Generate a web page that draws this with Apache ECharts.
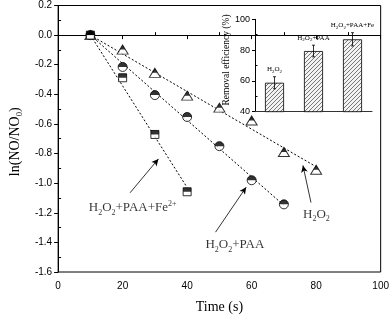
<!DOCTYPE html>
<html><head><meta charset="utf-8">
<script src="https://cdn.jsdelivr.net/npm/echarts@6/dist/echarts.min.js"></script>
<style>html,body{margin:0;padding:0;background:#fff}#c{width:392px;height:319px}</style>
</head><body><div id="c"></div>
<script>
// ---- data ----
const timeH2O2 = [10, 20, 30, 40, 50, 60, 70, 80];
const lnH2O2   = [0, -0.098, -0.255, -0.409, -0.49, -0.577, -0.79, -0.909];
const timePAA  = [10, 20, 30, 40, 50, 60, 70];
const lnPAA    = [0, -0.215, -0.405, -0.553, -0.75, -0.98, -1.143];
const timeFe   = [10, 20, 30, 40];
const lnFe     = [0, -0.288, -0.671, -1.058];
const insetCategories = ['H2O2', 'H2O2+PAA', 'H2O2+PAA+Fe'];
const insetLabels = ['H{s|2}O{s|2}', 'H{s|2}O{s|2}+PAA', 'H{s|2}O{s|2}+PAA+Fe'];
const removalEff = [58.8, 79.4, 87.0];
const removalErr = [3.9, 3.8, 4.3];
const xMinorTicks = [10, 30, 50, 70, 90];
const yMinorTicks = [-1.5, -1.3, -1.1, -0.9, -0.7, -0.5, -0.3, -0.1, 0.1];
const insetMinorTicks = [50, 70, 90];
// annotations (data coordinates)
const annoTexts = ['H{s|2}O{s|2}+PAA+Fe{u|2+}', 'H{s|2}O{s|2}+PAA', 'H{s|2}O{s|2}'];
const annoPos = [[23.1, -1.168], [54.8, -1.418], [80.1, -1.209]];
const arrowFrom = [[22.3, -1.065], [48.8, -1.331], [78.4, -1.131]];
const arrowTo   = [[31.1, -0.836], [58.3, -1.027], [75.9, -0.88]];

// ---- helpers ----
function fitLine(xs, ys) {
  const x0 = xs[0], y0 = ys[0];
  let sxy = 0, sxx = 0;
  for (let i = 0; i < xs.length; i++) {
    const dx = xs[i] - x0, dy = ys[i] - y0;
    sxy += dx * dy; sxx += dx * dx;
  }
  const k = sxy / sxx;
  const xl = xs[xs.length - 1];
  return [[x0, y0], [xl, y0 + k * (xl - x0)]];
}
function pts(xs, ys) { return xs.map((x, i) => [x, ys[i]]); }

const SERIF = "'Liberation Serif','Times New Roman',serif";
const SANS = "'Liberation Sans',Arial,sans-serif";

function markerSeries(xs, ys, kind) {
  let base, half;
  if (kind === 'tri') {
    base = {symbol: 'triangle', symbolSize: [11, 9]};
    half = {symbol: 'triangle', symbolSize: [5.5, 4.5], symbolOffset: [0, -2.25]};
  } else if (kind === 'circ') {
    base = {symbol: 'circle', symbolSize: 9};
    half = {symbol: 'path://M0 10 A10 10 0 0 1 20 10 Z', symbolSize: [9, 4.5], symbolOffset: [0, -2.25]};
  } else {
    base = {symbol: 'rect', symbolSize: 8};
    half = {symbol: 'rect', symbolSize: [8, 4], symbolOffset: [0, -2]};
  }
  return [
    Object.assign({type: 'scatter', xAxisIndex: 0, yAxisIndex: 0, data: pts(xs, ys), z: 5,
      itemStyle: {color: '#fff', borderColor: '#000', borderWidth: 1}}, base),
    Object.assign({type: 'scatter', xAxisIndex: 0, yAxisIndex: 0, data: pts(xs, ys), z: 6,
      itemStyle: {color: '#000', borderWidth: 0}}, half)
  ];
}
function fitSeries(xs, ys) {
  return {type: 'line', xAxisIndex: 0, yAxisIndex: 0, data: fitLine(xs, ys), showSymbol: false, symbol: 'none', z: 3,
    lineStyle: {color: '#000', width: 1, type: [2, 2]}};
}

// hatch pattern
const pc = document.createElement('canvas');
pc.width = 4; pc.height = 4;
const g = pc.getContext('2d');
g.fillStyle = '#f2f2f2'; g.fillRect(0, 0, 4, 4);
g.strokeStyle = '#6a6a6a'; g.lineWidth = 0.9;
g.beginPath();
g.moveTo(-1, 5); g.lineTo(5, -1);
g.moveTo(-1, 1); g.lineTo(1, -1);
g.moveTo(3, 5); g.lineTo(5, 3);
g.stroke();

const richMain = {
  s: {fontSize: 8, fontFamily: SERIF, color: '#000', padding: [9, 0, 0, 0]},
  u: {fontSize: 8, fontFamily: SERIF, color: '#000', padding: [0, 0, 8, 0]}
};

const chart = echarts.init(document.getElementById('c'), null, {renderer: 'canvas'});
const option = {
  animation: false,
  backgroundColor: '#fff',
  grid: [
    {left: 49, right: 10, top: 5.5, bottom: 42.5, show: true, borderColor: '#000', borderWidth: 1, backgroundColor: 'transparent'},
    {left: 255, right: 20, top: 19.3, bottom: 207.3}
  ],
  xAxis: [
    {gridIndex: 0, type: 'value', min: 0, max: 100, interval: 20, position: 'bottom',
      axisLine: {lineStyle: {color: '#000', width: 1}},
      axisTick: {show: true, inside: false, length: 4, lineStyle: {color: '#000'}},
      axisLabel: {fontSize: 10, color: '#000', fontFamily: SANS, margin: 9},
      splitLine: {show: false},
      name: 'Time (s)', nameLocation: 'middle', nameGap: 28,
      nameTextStyle: {fontFamily: SERIF, fontSize: 14, color: '#000'}},
    {gridIndex: 0, type: 'value', min: 0, max: 100, position: 'bottom',
      axisLine: {show: false}, axisLabel: {show: false}, splitLine: {show: false},
      axisTick: {show: true, inside: true, length: 3, customValues: xMinorTicks, lineStyle: {color: '#000'}}},
    {gridIndex: 1, type: 'category', data: insetCategories,
      axisLine: {lineStyle: {color: '#333', width: 1}},
      axisTick: {show: false}, axisLabel: {show: false}, splitLine: {show: false}}
  ],
  yAxis: [
    {gridIndex: 0, type: 'value', min: -1.6, max: 0.2, interval: 0.2, position: 'left',
      axisLine: {show: true, lineStyle: {color: '#000', width: 1}},
      axisTick: {show: true, inside: false, length: 4, lineStyle: {color: '#000'}},
      axisLabel: {fontSize: 10, color: '#000', fontFamily: SANS, margin: 6, formatter: v => v.toFixed(1)},
      splitLine: {show: false},
      name: 'ln(NO/NO{s|0})', nameLocation: 'middle', nameGap: 34,
      nameTextStyle: {fontFamily: SERIF, fontSize: 14, color: '#000', padding: [0, 6, 0, 0],
        rich: {s: {fontSize: 8.5, fontFamily: SERIF, color: '#000', padding: [9, 0, 0, 0]}}}},
    {gridIndex: 0, type: 'value', min: -1.6, max: 0.2, position: 'left',
      axisLine: {show: false}, axisLabel: {show: false}, splitLine: {show: false},
      axisTick: {show: true, inside: true, length: 3, customValues: yMinorTicks, lineStyle: {color: '#000'}}},
    {gridIndex: 1, type: 'value', min: 40, max: 100, interval: 20, position: 'left',
      axisLine: {show: true, lineStyle: {color: '#000', width: 1}},
      axisTick: {show: true, inside: false, length: 3, lineStyle: {color: '#000'}},
      axisLabel: {fontSize: 9, color: '#000', fontFamily: SANS, margin: 5},
      splitLine: {show: false},
      name: 'Removal efficiency (%)', nameLocation: 'middle', nameGap: 17,
      nameTextStyle: {fontFamily: SERIF, fontSize: 9.5, color: '#000', padding: [0, 0, 0, 11]}},
    {gridIndex: 1, type: 'value', min: 40, max: 100, position: 'left',
      axisLine: {show: false}, axisLabel: {show: false}, splitLine: {show: false},
      axisTick: {show: true, inside: true, length: 2.5, customValues: insetMinorTicks, lineStyle: {color: '#000'}}}
  ],
  series: [
    fitSeries(timeH2O2, lnH2O2),
    fitSeries(timePAA, lnPAA),
    fitSeries(timeFe, lnFe),
    ...markerSeries(timeH2O2, lnH2O2, 'tri'),
    ...markerSeries(timePAA, lnPAA, 'circ'),
    ...markerSeries(timeFe, lnFe, 'sq'),
    {type: 'scatter', xAxisIndex: 0, yAxisIndex: 0, symbolSize: 0, silent: true, z: 7,
      data: annoPos.map((p, i) => ({value: p, name: annoTexts[i]})),
      label: {show: true, position: 'inside', formatter: p => p.name,
        fontFamily: SERIF, fontSize: 13, color: '#000', rich: richMain},
      markLine: {silent: true, symbol: ['none', 'arrow'], symbolSize: [5, 7],
        lineStyle: {color: '#000', width: 0.8, type: 'solid'}, label: {show: false},
        data: arrowFrom.map((a, i) => [{coord: a}, {coord: arrowTo[i]}])}},
    {type: 'bar', xAxisIndex: 2, yAxisIndex: 2, data: removalEff, barWidth: 19, z: 4,
      itemStyle: {color: {image: pc, repeat: 'repeat'}, borderColor: '#000', borderWidth: 0.8}},
    {type: 'custom', xAxisIndex: 2, yAxisIndex: 2, z: 6,
      data: removalEff.map((v, i) => [i, v, removalErr[i]]),
      encode: {x: 0, y: 1},
      renderItem: function (params, api) {
        const i = api.value(0), v = api.value(1), e = api.value(2);
        const t = api.coord([i, v + e]), b = api.coord([i, v - e]);
        const st = {stroke: '#000', lineWidth: 0.8};
        return {type: 'group', children: [
          {type: 'line', shape: {x1: t[0], y1: t[1], x2: b[0], y2: b[1]}, style: st},
          {type: 'line', shape: {x1: t[0] - 1.5, y1: t[1], x2: t[0] + 1.5, y2: t[1]}, style: st},
          {type: 'line', shape: {x1: b[0] - 1.5, y1: b[1], x2: b[0] + 1.5, y2: b[1]}, style: st},
          {type: 'text', x: t[0], y: t[1] - 3, style: {
            text: insetLabels[params.dataIndex], align: 'center', verticalAlign: 'bottom',
            fontFamily: SERIF, fontSize: 7, fill: '#000',
            rich: {s: {fontSize: 5, fontFamily: SERIF, fill: '#000', padding: [4, 0, 0, 0]}}}}
        ]};
      }}
  ]
};
chart.setOption(option);
</script>
</body></html>
